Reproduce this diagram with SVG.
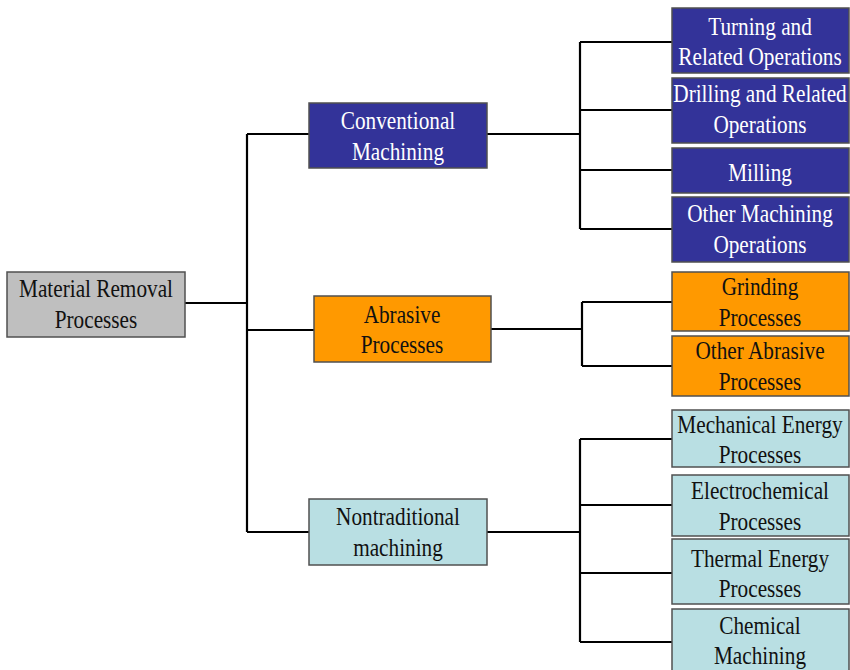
<svg xmlns="http://www.w3.org/2000/svg" width="850" height="670" viewBox="0 0 850 670">
<style>
.box{stroke:#505050;stroke-width:1.5}
.gray{fill:#bfbfbf}
.blue{fill:#333399}
.orange{fill:#ff9900}
.cyan{fill:#b9dfe3}
text{font-size:25px;text-anchor:middle}
.w{fill:#ffffff}
.k{fill:#111111}
.c path{fill:none;stroke:#000;stroke-width:2.2}
</style>
<rect width="850" height="670" fill="#ffffff"/>
<g class="c" id="connectors">
<path d="M185 303H247M247 134V532M247 134H309M247 330H314M247 532H309" stroke-width="3"/>
<path d="M487 134H580M580 42V229M580 42H672M580 110H672M580 170H672M580 229H672"/>
<path d="M491 329H582M582 302V366M582 302H672M582 366H672"/>
<path d="M487 532H580M580 439V642M580 439H672M580 505H672M580 573H672M580 642H672"/>
</g>
<g id="root">
<rect class="box gray" x="7" y="272" width="178" height="65"/>
<text class="k" font-family="'Liberation Serif', 'Times New Roman', serif" transform="matrix(0.85 0 0 1 96 0)"><tspan x="0" y="297">Material Removal</tspan><tspan x="0" y="328">Processes</tspan></text>
</g>
<g id="conventional">
<rect class="box blue" x="309" y="103" width="178" height="65"/>
<text class="w" font-family="'Liberation Serif', 'Times New Roman', serif" transform="matrix(0.85 0 0 1 398 0)"><tspan x="0" y="129">Conventional</tspan><tspan x="0" y="160">Machining</tspan></text>
</g>
<g id="abrasive">
<rect class="box orange" x="314" y="296" width="177" height="66"/>
<text class="k" font-family="'Liberation Serif', 'Times New Roman', serif" transform="matrix(0.85 0 0 1 402 0)"><tspan x="0" y="323">Abrasive</tspan><tspan x="0" y="353">Processes</tspan></text>
</g>
<g id="nontraditional">
<rect class="box cyan" x="309" y="499" width="178" height="66"/>
<text class="k" font-family="'Liberation Serif', 'Times New Roman', serif" transform="matrix(0.85 0 0 1 398 0)"><tspan x="0" y="525">Nontraditional</tspan><tspan x="0" y="556">machining</tspan></text>
</g>
<g id="turning">
<rect class="box blue" x="672" y="8" width="177" height="65"/>
<text class="w" font-family="'Liberation Serif', 'Times New Roman', serif" transform="matrix(0.85 0 0 1 760 0)"><tspan x="0" y="35">Turning and</tspan><tspan x="0" y="65">Related Operations</tspan></text>
</g>
<g id="drilling">
<rect class="box blue" x="672" y="78" width="177" height="65"/>
<text class="w" font-family="'Liberation Serif', 'Times New Roman', serif" transform="matrix(0.85 0 0 1 760 0)"><tspan x="0" y="102">Drilling and Related</tspan><tspan x="0" y="133">Operations</tspan></text>
</g>
<g id="milling">
<rect class="box blue" x="672" y="148" width="177" height="45"/>
<text class="w" font-family="'Liberation Serif', 'Times New Roman', serif" transform="matrix(0.85 0 0 1 760 0)"><tspan x="0" y="181">Milling</tspan></text>
</g>
<g id="other-machining">
<rect class="box blue" x="672" y="197" width="177" height="65"/>
<text class="w" font-family="'Liberation Serif', 'Times New Roman', serif" transform="matrix(0.85 0 0 1 760 0)"><tspan x="0" y="222">Other Machining</tspan><tspan x="0" y="253">Operations</tspan></text>
</g>
<g id="grinding">
<rect class="box orange" x="672" y="272" width="177" height="59"/>
<text class="k" font-family="'Liberation Serif', 'Times New Roman', serif" transform="matrix(0.85 0 0 1 760 0)"><tspan x="0" y="295">Grinding</tspan><tspan x="0" y="326">Processes</tspan></text>
</g>
<g id="other-abrasive">
<rect class="box orange" x="672" y="336" width="177" height="60"/>
<text class="k" font-family="'Liberation Serif', 'Times New Roman', serif" transform="matrix(0.85 0 0 1 760 0)"><tspan x="0" y="359">Other Abrasive</tspan><tspan x="0" y="390">Processes</tspan></text>
</g>
<g id="mechanical">
<rect class="box cyan" x="672" y="410" width="177" height="57"/>
<text class="k" font-family="'Liberation Serif', 'Times New Roman', serif" transform="matrix(0.85 0 0 1 760 0)"><tspan x="0" y="433">Mechanical Energy</tspan><tspan x="0" y="463">Processes</tspan></text>
</g>
<g id="electrochemical">
<rect class="box cyan" x="672" y="475" width="177" height="61"/>
<text class="k" font-family="'Liberation Serif', 'Times New Roman', serif" transform="matrix(0.85 0 0 1 760 0)"><tspan x="0" y="499">Electrochemical</tspan><tspan x="0" y="530">Processes</tspan></text>
</g>
<g id="thermal">
<rect class="box cyan" x="672" y="539" width="177" height="65"/>
<text class="k" font-family="'Liberation Serif', 'Times New Roman', serif" transform="matrix(0.85 0 0 1 760 0)"><tspan x="0" y="567">Thermal Energy</tspan><tspan x="0" y="597">Processes</tspan></text>
</g>
<g id="chemical">
<rect class="box cyan" x="672" y="609" width="177" height="72"/>
<text class="k" font-family="'Liberation Serif', 'Times New Roman', serif" transform="matrix(0.85 0 0 1 760 0)"><tspan x="0" y="634">Chemical</tspan><tspan x="0" y="664">Machining</tspan></text>
</g>
</svg>
